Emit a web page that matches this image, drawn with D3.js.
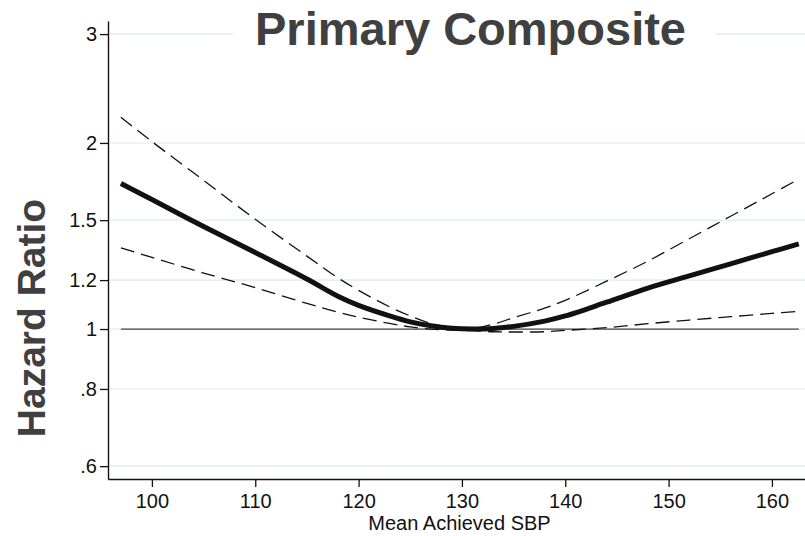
<!DOCTYPE html>
<html>
<head>
	<meta charset="utf-8">
	<title>Primary Composite</title>
	<style type="text/css">
		body {margin: 0px; background: white;}
		svg {display: block;}
		text {font-family: "Liberation Sans", Arial, Helvetica, sans-serif;}
	</style>
</head>
<body>
	<svg id="svg" width="805" height="536"></svg>
	<script src="https://d3js.org/d3.v7.min.js" charset="utf-8"></script>
	<script>
		// values
		var sbp   = [97, 100, 105, 110, 115, 118, 120, 123, 125, 127, 129, 131, 133, 135, 138, 140, 144, 148, 152, 156, 160, 162.6];
		var hr    = [1.72, 1.62, 1.465, 1.33, 1.205, 1.13, 1.092, 1.05, 1.027, 1.012, 1.003, 1.0, 1.002, 1.01, 1.03, 1.05, 1.105, 1.165, 1.219, 1.275, 1.334, 1.373];
		var upper = [2.20, 2.01, 1.74, 1.505, 1.312, 1.21, 1.155, 1.086, 1.05, 1.021, 1.006, 1.002, 1.018, 1.043, 1.081, 1.113, 1.195, 1.288, 1.40, 1.522, 1.655, 1.748];
		var lower = [1.353, 1.306, 1.232, 1.167, 1.10, 1.065, 1.045, 1.021, 1.008, 1.0, 0.996, 0.994, 0.99, 0.989, 0.99, 0.995, 1.005, 1.02, 1.034, 1.047, 1.06, 1.068];

		var xTicks = [100, 110, 120, 130, 140, 150, 160];
		var yTicks = [0.6, 0.8, 1, 1.2, 1.5, 2, 3];
		var yTickLabels = [".6", ".8", "1", "1.2", "1.5", "2", "3"];
		var refHR = 1;

		var svg = d3.select("#svg");

		var x = d3.scaleLinear()
			.domain([95.75, 163.2])
			.range([108, 805]);
		var y = d3.scaleLog()
			.domain([0.572, 3.15])
			.range([479, 21]);

		// grid lines
		svg.append("g").selectAll("line")
			.data(yTicks)
			.enter()
			.append("line")
			.attr("x1", x.range()[0])
			.attr("x2", x.range()[1])
			.attr("y1", function(d){return y(d)})
			.attr("y2", function(d){return y(d)})
			.attr("stroke", "#e8eff3")
			.attr("stroke-width", 1.6);

		// reference line at HR = 1
		svg.append("line")
			.attr("x1", x(sbp[0]))
			.attr("x2", x(sbp[sbp.length - 1]))
			.attr("y1", y(refHR))
			.attr("y2", y(refHR))
			.attr("stroke", "#444")
			.attr("stroke-width", 1.3);

		var line = function(vals){
			return d3.line()
				.x(function(d, i){return x(sbp[i])})
				.y(function(d){return y(d)})
				.curve(d3.curveCatmullRom.alpha(0.5))(vals);
		};

		svg.append("path")
			.attr("d", line(upper))
			.attr("fill", "none")
			.attr("stroke", "#111")
			.attr("stroke-width", 1.3)
			.attr("stroke-dasharray", "14,7");
		svg.append("path")
			.attr("d", line(lower))
			.attr("fill", "none")
			.attr("stroke", "#111")
			.attr("stroke-width", 1.3)
			.attr("stroke-dasharray", "14,7");
		svg.append("path")
			.attr("d", line(hr))
			.attr("fill", "none")
			.attr("stroke", "#111")
			.attr("stroke-width", 5);

		// axes
		svg.append("g")
			.attr("transform", "translate(0," + y.range()[0] + ")")
			.call(d3.axisBottom(x).tickValues(xTicks).tickSize(8).tickSizeOuter(0).tickPadding(7));
		svg.append("g")
			.attr("transform", "translate(" + x.range()[0] + ",0)")
			.call(d3.axisLeft(y).tickValues(yTicks).tickSize(8).tickSizeOuter(0).tickPadding(3)
				.tickFormat(function(d, i){return yTickLabels[i]}));

		svg.selectAll(".domain").attr("stroke", "#111").attr("stroke-width", 1.4);
		svg.selectAll(".tick line").attr("stroke", "#111").attr("stroke-width", 1.3);
		svg.selectAll(".tick text")
			.attr("font-family", "Liberation Sans, Arial, sans-serif")
			.attr("font-size", 20)
			.attr("fill", "#111");

		// axis titles
		svg.append("text")
			.attr("x", 459.5)
			.attr("y", 530)
			.attr("text-anchor", "middle")
			.attr("font-size", 20)
			.attr("fill", "#111")
			.text("Mean Achieved SBP");

		svg.append("text")
			.attr("transform", "translate(45,318) rotate(-90)")
			.attr("text-anchor", "middle")
			.attr("font-size", 39)
			.attr("font-weight", "bold")
			.attr("fill", "#404040")
			.text("Hazard Ratio");

		// title with white box over the top grid line
		var titleBox = svg.append("rect").attr("fill", "white");
		var title = svg.append("text")
			.attr("x", 470.5)
			.attr("y", 45)
			.attr("text-anchor", "middle")
			.attr("font-size", 47)
			.attr("font-weight", "bold")
			.attr("fill", "#404040")
			.text("Primary Composite");
		var bb = title.node().getBBox();
		titleBox.attr("x", bb.x - 22)
			.attr("y", bb.y)
			.attr("width", bb.width + 52)
			.attr("height", bb.height);
	</script>
</body>
</html>
